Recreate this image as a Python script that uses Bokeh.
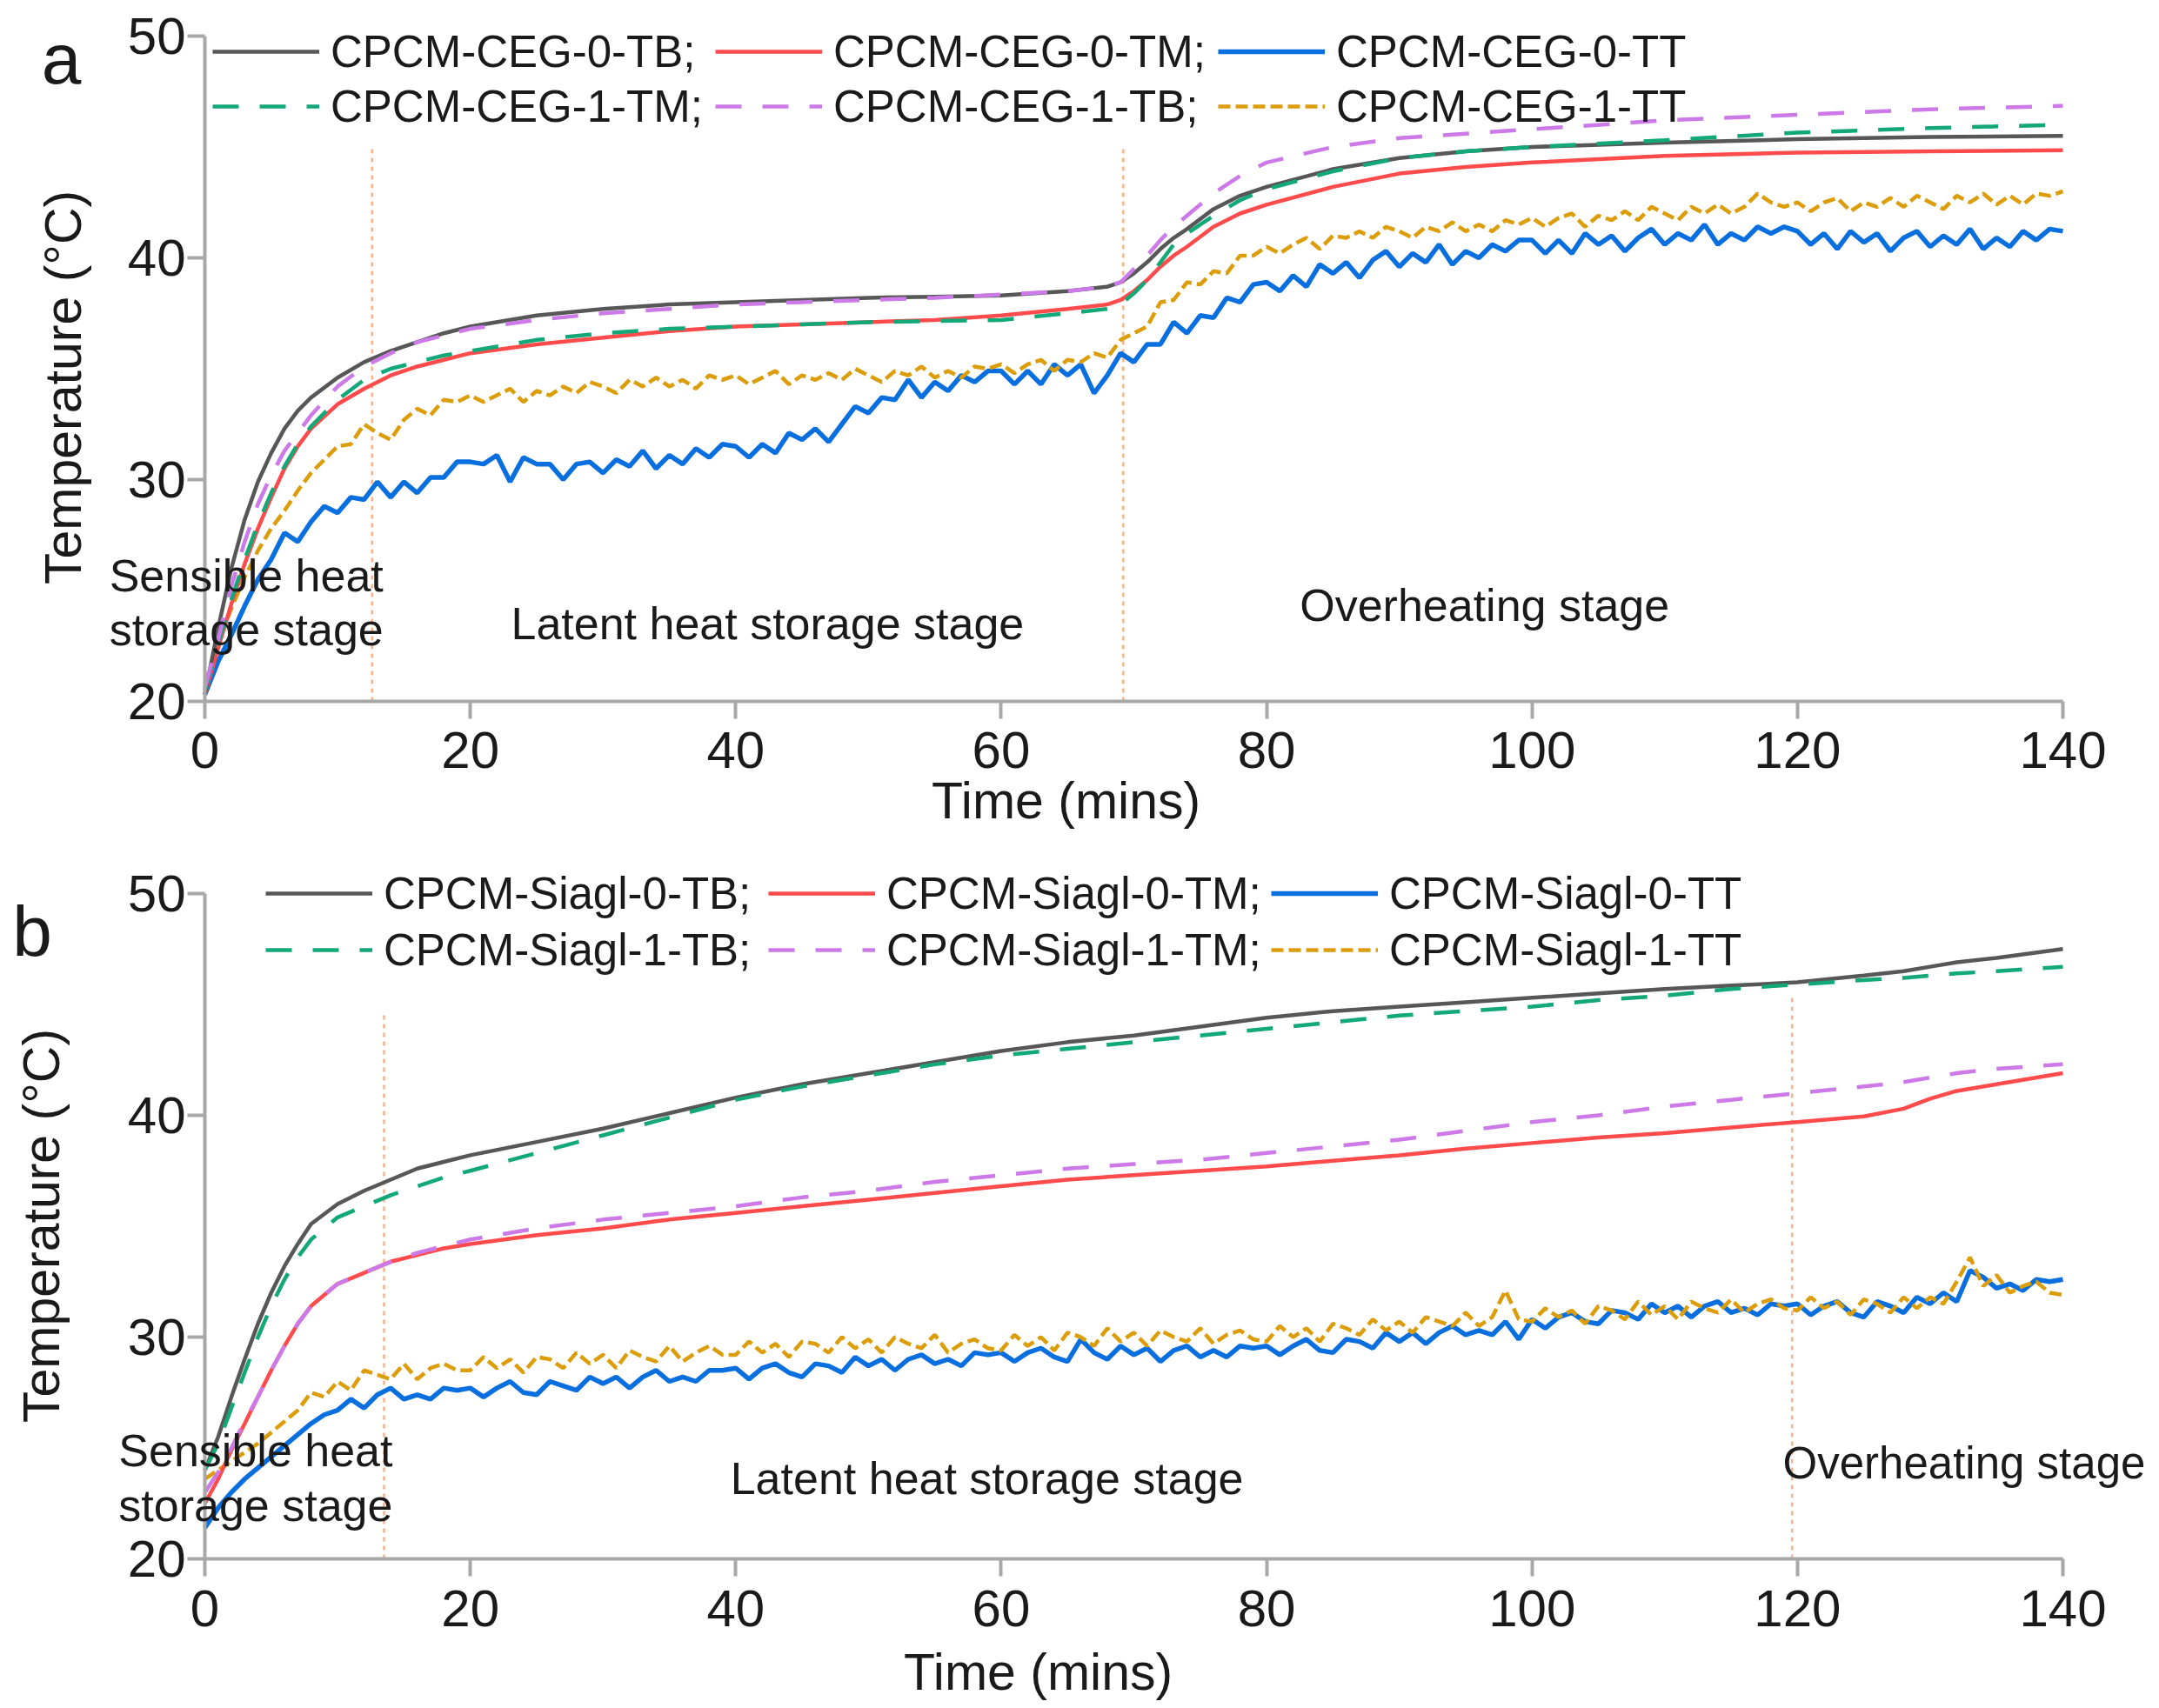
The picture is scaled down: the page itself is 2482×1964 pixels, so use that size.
import math
from bokeh.plotting import figure
from bokeh.models import Range1d, Legend, LegendItem, Label, FixedTicker
from bokeh.layouts import column
from bokeh.embed import file_html
from bokeh.resources import INLINE

FONT = "Liberation Sans"
TXT = "#1a1a1a"
AXIS_COL = "#a8a8a8"
BLACK = "#575757"
RED = "#ff4b4b"
BLUE = "#0a6fde"
GREEN = "#12a877"
PURPLE = "#cc7ae8"
ORANGE = "#dc9d0a"
STAGE = "#f7b48c"

x_ticks = [0, 20, 40, 60, 80, 100, 120, 140]
y_ticks = [20, 30, 40, 50]

# ---------------- panel a (CEG) ----------------
ta = [0, 1, 2, 3, 4, 5, 6, 7, 8, 10, 12, 14, 16, 18, 20, 25, 30, 35, 40, 45, 50, 55, 60, 65,
      68, 69, 70, 71, 72, 73, 74, 76, 78, 80, 85, 90, 95, 100, 110, 120, 130, 140]
a_0TB = [20.3, 23.3, 26.0, 28.2, 29.9, 31.2, 32.3, 33.1, 33.7, 34.6, 35.3, 35.8, 36.2, 36.6, 36.9,
         37.4, 37.7, 37.9, 38.0, 38.1, 38.2, 38.25, 38.3, 38.5, 38.7, 38.9, 39.3, 39.8, 40.4, 40.9,
         41.3, 42.2, 42.8, 43.2, 44.0, 44.5, 44.8, 45.0, 45.2, 45.35, 45.45, 45.5]
a_0TM = [20.3, 22.4, 24.4, 26.2, 27.8, 29.2, 30.5, 31.5, 32.3, 33.4, 34.1, 34.7, 35.1, 35.4, 35.7,
         36.1, 36.4, 36.7, 36.9, 37.0, 37.1, 37.2, 37.4, 37.7, 37.9, 38.1, 38.5, 39.0, 39.6, 40.1,
         40.5, 41.4, 42.0, 42.4, 43.2, 43.8, 44.1, 44.3, 44.6, 44.75, 44.8, 44.85]
a_1TM = [20.5, 22.6, 24.6, 26.4, 28.0, 29.4, 30.6, 31.6, 32.4, 33.6, 34.5, 35.0, 35.3, 35.6, 35.8,
         36.3, 36.6, 36.8, 36.9, 37.0, 37.1, 37.15, 37.2, 37.5, 37.7, 37.9, 38.4, 39.0, 39.8, 40.6,
         41.1, 41.9, 42.6, 43.1, 43.9, 44.5, 44.8, 45.0, 45.3, 45.65, 45.85, 46.0]
a_1TB = [20.6, 22.8, 25.2, 27.2, 28.9, 30.2, 31.3, 32.1, 32.9, 34.2, 35.1, 35.7, 36.2, 36.5, 36.8,
         37.2, 37.5, 37.7, 37.9, 38.0, 38.1, 38.2, 38.35, 38.5, 38.7, 38.9, 39.5, 40.1, 40.8, 41.4,
         41.9, 42.9, 43.7, 44.3, 45.0, 45.4, 45.6, 45.8, 46.2, 46.45, 46.7, 46.85]

t_1min = list(range(0, 141))
a_0TT = [20.3, 21.8, 23.0, 24.3, 25.5, 26.4, 27.6, 27.2, 28.1, 28.8,
         28.5, 29.2, 29.1, 29.9, 29.2, 29.9, 29.4, 30.1, 30.1, 30.8,
         30.8, 30.7, 31.1, 29.9, 31.0, 30.7, 30.7, 30.0, 30.7, 30.8,
         30.3, 30.9, 30.6, 31.3, 30.5, 31.1, 30.7, 31.4, 31.0, 31.6,
         31.5, 31.0, 31.6, 31.2, 32.1, 31.8, 32.3, 31.7, 32.5, 33.3,
         33.0, 33.7, 33.6, 34.5, 33.7, 34.4, 34.0, 34.7, 34.4, 34.9,
         34.9, 34.3, 34.9, 34.3, 35.2, 34.7, 35.2, 33.9, 34.7, 35.7,
         35.3, 36.1, 36.1, 37.1, 36.6, 37.4, 37.3, 38.2, 38.0, 38.8,
         38.9, 38.5, 39.2, 38.7, 39.7, 39.3, 39.8, 39.1, 39.9, 40.3,
         39.6, 40.2, 39.8, 40.6, 39.7, 40.3, 40.0, 40.6, 40.3, 40.8,
         40.8, 40.2, 40.8, 40.2, 41.1, 40.6, 41.0, 40.3, 40.9, 41.3,
         40.6, 41.1, 40.8, 41.5, 40.6, 41.1, 40.8, 41.4, 41.1, 41.4,
         41.2, 40.6, 41.1, 40.4, 41.2, 40.7, 41.1, 40.3, 40.9, 41.2,
         40.5, 41.0, 40.6, 41.3, 40.4, 40.9, 40.5, 41.2, 40.8, 41.3, 41.2]
a_1TT = [20.8, 22.6, 24.2, 25.6, 26.8, 27.8, 28.6, 29.5, 30.3, 30.9,
         31.5, 31.6, 32.5, 32.1, 31.8, 32.7, 33.2, 32.9, 33.6, 33.5,
         33.8, 33.5, 33.8, 34.1, 33.5, 34.0, 33.8, 34.2, 33.9, 34.4,
         34.2, 33.9, 34.5, 34.2, 34.6, 34.2, 34.5, 34.1, 34.7, 34.5,
         34.7, 34.3, 34.6, 34.9, 34.3, 34.7, 34.5, 34.8, 34.5, 35.0,
         34.7, 34.4, 34.9, 34.7, 35.1, 34.6, 34.9, 34.6, 35.1, 35.0,
         35.2, 34.8, 35.2, 35.4, 34.9, 35.4, 35.3, 35.7, 35.5, 36.3,
         36.6, 36.9, 38.0, 38.1, 38.9, 38.8, 39.4, 39.3, 40.1, 40.1,
         40.5, 40.2, 40.6, 40.9, 40.4, 41.0, 40.9, 41.2, 40.9, 41.4,
         41.2, 40.9, 41.4, 41.2, 41.6, 41.2, 41.5, 41.2, 41.7, 41.5,
         41.8, 41.4, 41.8, 42.0, 41.4, 41.9, 41.7, 42.1, 41.7, 42.3,
         42.0, 41.7, 42.3, 42.0, 42.4, 42.0, 42.3, 42.9, 42.5, 42.3,
         42.5, 42.1, 42.5, 42.7, 42.1, 42.5, 42.3, 42.7, 42.3, 42.8,
         42.5, 42.2, 42.8, 42.5, 42.9, 42.4, 42.8, 42.4, 42.9, 42.8, 43.0]

a_stage_x = [12.6, 69.2]
a_stage_top = [45.1, 45.0]

# ---------------- panel b (Siagl) ----------------
tb = [0, 1, 2, 3, 4, 5, 6, 7, 8, 10, 12, 14, 16, 18, 20, 25, 30, 35, 40, 45, 50, 55, 60, 65,
      70, 75, 80, 85, 90, 95, 100, 105, 110, 115, 120, 125, 128, 130, 132, 135, 140]
b_0TB = [24.0, 25.5, 27.3, 29.0, 30.6, 32.0, 33.2, 34.2, 35.1, 36.0, 36.6, 37.1, 37.6, 37.9, 38.2,
         38.8, 39.4, 40.1, 40.8, 41.4, 41.9, 42.4, 42.9, 43.3, 43.6, 44.0, 44.4, 44.7, 44.9, 45.1,
         45.3, 45.5, 45.7, 45.85, 46.0, 46.3, 46.5, 46.7, 46.9, 47.1, 47.5]
b_0TM = [22.5, 23.6, 24.9, 26.1, 27.3, 28.5, 29.6, 30.6, 31.4, 32.4, 32.9, 33.4, 33.7, 34.0, 34.2,
         34.6, 34.9, 35.3, 35.6, 35.9, 36.2, 36.5, 36.8, 37.1, 37.3, 37.5, 37.7, 37.95, 38.2, 38.5,
         38.75, 39.0, 39.2, 39.45, 39.7, 39.95, 40.3, 40.75, 41.1, 41.4, 41.9]
b_1TB = [24.0, 25.2, 26.8, 28.4, 30.0, 31.4, 32.6, 33.6, 34.4, 35.4, 35.9, 36.4, 36.8, 37.2, 37.5,
         38.3, 39.1, 39.9, 40.7, 41.3, 41.8, 42.3, 42.7, 43.0, 43.3, 43.6, 43.9, 44.2, 44.5, 44.7,
         44.9, 45.2, 45.4, 45.7, 45.9, 46.1, 46.2, 46.3, 46.4, 46.5, 46.7]
b_1TM = [23.0, 23.9, 25.0, 26.2, 27.3, 28.5, 29.6, 30.6, 31.4, 32.4, 32.9, 33.4, 33.8, 34.1, 34.4,
         34.9, 35.3, 35.6, 35.9, 36.3, 36.6, 37.0, 37.3, 37.6, 37.8, 38.0, 38.3, 38.6, 38.9, 39.3,
         39.7, 40.0, 40.4, 40.7, 41.0, 41.3, 41.5, 41.7, 41.9, 42.1, 42.3]
b_0TT = [21.4, 22.3, 23.0, 23.6, 24.1, 24.6, 25.1, 25.6, 26.1, 26.5,
         26.7, 27.2, 26.8, 27.4, 27.7, 27.2, 27.4, 27.2, 27.7, 27.6,
         27.7, 27.3, 27.7, 28.0, 27.5, 27.4, 28.0, 27.8, 27.6, 28.2,
         27.9, 28.2, 27.7, 28.2, 28.5, 28.0, 28.2, 28.0, 28.5, 28.5,
         28.6, 28.1, 28.6, 28.8, 28.4, 28.2, 28.8, 28.7, 28.4, 29.1,
         28.7, 29.0, 28.5, 29.0, 29.2, 28.8, 29.0, 28.7, 29.3, 29.2,
         29.3, 28.9, 29.3, 29.5, 29.1, 28.9, 29.9, 29.3, 29.0, 29.6,
         29.2, 29.5, 28.9, 29.4, 29.6, 29.1, 29.4, 29.1, 29.6, 29.5,
         29.6, 29.2, 29.6, 29.9, 29.4, 29.3, 29.9, 29.8, 29.5, 30.2,
         29.8, 30.2, 29.7, 30.2, 30.5, 30.1, 30.3, 30.1, 30.7, 29.9,
         30.8, 30.4, 30.9, 31.1, 30.7, 30.6, 31.2, 31.1, 30.8, 31.5,
         31.1, 31.4, 30.9, 31.4, 31.6, 31.1, 31.3, 31.0, 31.5, 31.4,
         31.5, 31.0, 31.4, 31.6, 31.1, 30.9, 31.6, 31.4, 31.1, 31.8,
         31.5, 32.0, 31.6, 33.0, 32.7, 32.2, 32.4, 32.1, 32.6, 32.5, 32.6]
b_1TT = [23.6, 24.0, 24.4, 24.8, 25.2, 25.7, 26.2, 26.7, 27.5, 27.3,
         28.0, 27.6, 28.5, 28.3, 28.1, 28.8, 28.1, 28.6, 28.8, 28.5,
         28.5, 29.1, 28.6, 29.0, 28.4, 29.1, 29.0, 28.6, 29.3, 28.8,
         29.2, 28.6, 29.4, 29.1, 28.9, 29.6, 28.9, 29.3, 29.6, 29.2,
         29.2, 29.8, 29.3, 29.7, 29.1, 29.8, 29.7, 29.3, 30.0, 29.5,
         29.9, 29.3, 30.0, 29.7, 29.5, 30.1, 29.3, 29.7, 29.9, 29.5,
         29.4, 30.1, 29.6, 30.0, 29.4, 30.2, 30.0, 29.6, 30.4, 29.8,
         30.2, 29.6, 30.3, 30.0, 29.8, 30.4, 29.7, 30.1, 30.3, 29.9,
         29.8, 30.5, 30.0, 30.4, 29.8, 30.6, 30.4, 30.1, 30.8, 30.3,
         30.7, 30.2, 30.9, 30.7, 30.5, 31.1, 30.5, 30.9, 32.1, 30.8,
         30.7, 31.3, 30.9, 31.2, 30.6, 31.4, 31.2, 30.8, 31.6, 31.0,
         31.4, 30.8, 31.6, 31.3, 31.1, 31.7, 31.1, 31.5, 31.7, 31.3,
         31.2, 31.8, 31.3, 31.6, 31.0, 31.7, 31.5, 31.1, 31.8, 31.3,
         31.8, 31.5, 32.5, 33.6, 32.3, 32.8, 32.0, 32.3, 32.5, 32.0, 31.9]

b_stage_x = [13.5, 119.6]
b_stage_top = [44.7, 45.4]

labels_a = [["CPCM-CEG-0-TB;", "CPCM-CEG-0-TM;", "CPCM-CEG-0-TT"],
            ["CPCM-CEG-1-TM;", "CPCM-CEG-1-TB;", "CPCM-CEG-1-TT"]]
labels_b = [["CPCM-Siagl-0-TB;", "CPCM-Siagl-0-TM;", "CPCM-Siagl-0-TT"],
            ["CPCM-Siagl-1-TB;", "CPCM-Siagl-1-TM;", "CPCM-Siagl-1-TT"]]

SOLID_W = 4.5
DASH = "30 24"
FIG_W = 2474
X_VIEW = (-15.403, 146.75)


def base_figure(fh, y_view):
    p = figure(frame_width=FIG_W, frame_height=fh,
               min_border_left=0, min_border_right=0,
               min_border_top=0, min_border_bottom=0,
               x_range=Range1d(*X_VIEW), y_range=Range1d(*y_view),
               output_backend="svg", toolbar_location=None)
    p.xgrid.visible = False
    p.ygrid.visible = False
    p.outline_line_color = None
    p.background_fill_color = "white"
    p.border_fill_color = "white"
    p.xaxis.ticker = FixedTicker(ticks=x_ticks)
    p.yaxis.ticker = FixedTicker(ticks=y_ticks)
    p.xaxis.fixed_location = 20
    p.yaxis.fixed_location = 0
    p.xaxis.bounds = (0, 140)
    p.yaxis.bounds = (20, 50)
    for ax in (p.xaxis[0], p.yaxis[0]):
        ax.axis_line_color = AXIS_COL
        ax.axis_line_width = 4
        ax.major_tick_line_color = AXIS_COL
        ax.major_tick_line_width = 4
        ax.major_tick_out = 20
        ax.major_tick_in = 0
        ax.minor_tick_line_color = None
        ax.major_label_text_font = FONT
        ax.major_label_text_font_size = "60px"
        ax.major_label_text_color = TXT
    p.xaxis.major_label_standoff = 16
    p.yaxis.major_label_standoff = 2
    return p


def add_text(p, text, x, y, size="52px", align="left", baseline="alphabetic", angle=0.0):
    p.add_layout(Label(x=x, y=y, text=text, text_font=FONT, text_font_size=size,
                       text_color=TXT, text_align=align, text_baseline=baseline,
                       angle=angle))


def add_legends(p, rows, x0, ys, label_w, standoff):
    for items, y in zip(rows, ys):
        lg = Legend(items=[LegendItem(label=lab, renderers=[r]) for lab, r in items],
                    location=(x0, y), orientation="horizontal",
                    glyph_width=123, glyph_height=60, label_height=60,
                    label_width=label_w, label_standoff=standoff,
                    spacing=0, padding=0, margin=0,
                    border_line_color=None, background_fill_alpha=0,
                    label_text_font=FONT, label_text_font_size="51px",
                    label_text_color=TXT)
        p.add_layout(lg)


# ----- panel a -----
pa = base_figure(986, (12.941, 51.608))
pa.segment(x0=a_stage_x, y0=[20, 20], x1=a_stage_x, y1=a_stage_top,
           line_color=STAGE, line_width=2.5, line_dash="5 5")
ra_0TT = pa.line(t_1min, a_0TT, line_color=BLUE, line_width=5.5)
ra_1TT = pa.line(t_1min, a_1TT, line_color=ORANGE, line_width=4.5, line_dash="14 6")
ra_0TM = pa.line(ta, a_0TM, line_color=RED, line_width=SOLID_W)
ra_0TB = pa.line(ta, a_0TB, line_color=BLACK, line_width=SOLID_W)
ra_1TM = pa.line(ta, a_1TM, line_color=GREEN, line_width=SOLID_W, line_dash=DASH)
ra_1TB = pa.line(ta, a_1TB, line_color=PURPLE, line_width=SOLID_W, line_dash=DASH)
add_legends(pa,
            [list(zip(labels_a[0], [ra_0TB, ra_0TM, ra_0TT])),
             list(zip(labels_a[1], [ra_1TM, ra_1TB, ra_1TT]))],
            244, [897, 834], 442, 13)
add_text(pa, "Sensible heat", -7.2, 25.68)
add_text(pa, "storage stage", -7.2, 23.23)
add_text(pa, "Latent heat storage stage", 23.07, 23.5)
add_text(pa, "Overheating stage", 82.5, 24.35)
add_text(pa, "Time (mins)", 64.89, 15.5, size="59px", align="center")
add_text(pa, "Temperature (°C)", -10.62, 34.16, size="59px", align="center",
         baseline="middle", angle=math.pi / 2)
add_text(pa, "a", -12.3, 49.0, size="82px")

# ----- panel b -----
pb = base_figure(970, (13.569, 51.608))
pb.segment(x0=b_stage_x, y0=[20, 20], x1=b_stage_x, y1=b_stage_top,
           line_color=STAGE, line_width=2.5, line_dash="5 5")
rb_0TT = pb.line(t_1min, b_0TT, line_color=BLUE, line_width=5.5)
rb_1TT = pb.line(t_1min, b_1TT, line_color=ORANGE, line_width=4.5, line_dash="14 6")
rb_0TM = pb.line(tb, b_0TM, line_color=RED, line_width=SOLID_W)
rb_0TB = pb.line(tb, b_0TB, line_color=BLACK, line_width=SOLID_W)
rb_1TB = pb.line(tb, b_1TB, line_color=GREEN, line_width=SOLID_W, line_dash=DASH)
rb_1TM = pb.line(tb, b_1TM, line_color=PURPLE, line_width=SOLID_W, line_dash=DASH)
add_legends(pb,
            [list(zip(labels_b[0], [rb_0TB, rb_0TM, rb_0TT])),
             list(zip(labels_b[1], [rb_1TB, rb_1TM, rb_1TT]))],
            305, [899, 834], 442, 13)
add_text(pb, "Sensible heat", -6.5, 24.88)
add_text(pb, "storage stage", -6.5, 22.41)
add_text(pb, "Latent heat storage stage", 39.6, 23.63)
add_text(pb, "Overheating stage", 118.9, 24.3, size="51px")
add_text(pb, "Time (mins)", 62.79, 14.87, size="59px", align="center")
add_text(pb, "Temperature (°C)", -12.32, 35.02, size="59px", align="center",
         baseline="middle", angle=math.pi / 2)
add_text(pb, "b", -14.5, 48.3, size="82px")

layout = column(pa, pb)
open("out.html", "w").write(file_html(layout, INLINE))
